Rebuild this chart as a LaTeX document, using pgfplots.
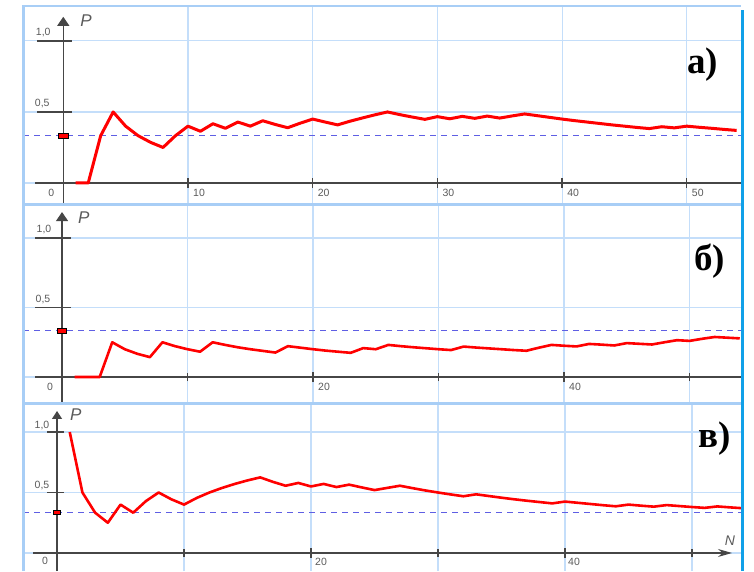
\documentclass[border=0pt]{standalone}
\usepackage{pgfplots}
\pgfplotsset{compat=1.18}
\usepackage{pgfplotstable}
\usetikzlibrary{arrows.meta}
\usepackage{fontspec}
\setmainfont{Liberation Sans}
\newfontfamily\labfont{Liberation Serif}

\definecolor{gridblue}{RGB}{196,222,250}
\definecolor{frameblue}{RGB}{168,206,246}
\definecolor{edgeblue}{RGB}{16,160,232}
\definecolor{axisgray}{RGB}{70,70,70}
\definecolor{lblgray}{RGB}{90,90,90}
\definecolor{dashblue}{RGB}{95,95,228}

% relative frequency P after N trials, three runs
\pgfplotstableread{
N  Pa    Pb    Pc
1  0     0     1
2  0     0     0.5
3  0.333 0     0.333
4  0.5   0.25  0.25
5  0.4   0.2   0.4
6  0.333 0.167 0.333
7  0.286 0.143 0.429
8  0.25  0.25  0.5
9  0.333 0.222 0.444
10 0.4   0.2   0.4
11 0.364 0.182 0.455
12 0.417 0.25  0.5
13 0.385 0.231 0.538
14 0.429 0.214 0.571
15 0.4   0.2   0.6
16 0.438 0.188 0.625
17 0.412 0.176 0.588
18 0.389 0.222 0.556
19 0.421 0.211 0.579
20 0.45  0.2   0.55
21 0.429 0.19  0.571
22 0.409 0.182 0.545
23 0.435 0.174 0.565
24 0.458 0.208 0.542
25 0.48  0.2   0.52
26 0.5   0.231 0.538
27 0.481 0.222 0.556
28 0.464 0.214 0.536
29 0.448 0.207 0.517
30 0.467 0.2   0.5
31 0.452 0.194 0.484
32 0.469 0.219 0.469
33 0.455 0.212 0.485
34 0.471 0.206 0.471
35 0.457 0.2   0.457
36 0.472 0.194 0.444
37 0.486 0.189 0.432
38 0.474 0.211 0.421
39 0.462 0.231 0.41
40 0.45  0.225 0.425
41 0.439 0.22  0.415
42 0.429 0.238 0.405
43 0.419 0.233 0.395
44 0.409 0.227 0.386
45 0.4   0.244 0.4
46 0.391 0.239 0.391
47 0.383 0.234 0.383
48 0.396 0.25  0.396
49 0.388 0.265 0.388
50 0.4   0.26  0.38
51 0.392 0.275 0.373
52 0.385 0.288 0.385
53 0.377 0.283 0.377
54 0.37  0.278 0.37
}\freq

\pgfplotsset{
  panel/.style={
    scale only axis, width=718pt, anchor=south west,
    clip mode=individual,
    axis line style={draw=none}, tick style={draw=none},
    xtick={10,20,30,40,50}, ytick={0,0.5,1},
    xticklabels={}, yticklabels={},
    grid=major, major grid style={draw=gridblue, line width=1.1pt},
  },
}
\tikzset{
  axisline/.style={draw=axisgray, line width=1.2pt},
  lbl/.style={font=\fontsize{10.5}{12}\selectfont, text=lblgray, inner sep=0pt},
  plbl/.style={font=\fontsize{17}{17}\selectfont\itshape, text=lblgray, inner sep=0pt, anchor=west},
  prob/.style={draw=red, line width=2.8pt, line join=round, mark=none},
  ref/.style={draw=dashblue, line width=1.3pt, dash pattern=on 6pt off 5pt},
  panellbl/.style={font=\labfont\bfseries\fontsize{37}{37}\selectfont, anchor=base west, inner sep=0pt},
}
% tick mark across the N axis (half length #2) and its label
\newcommand{\xtk}[2]{\draw[axisline] (axis cs:#1,0) ++(0pt,-#2) -- ++(0pt,#2) -- ++(0pt,#2);}
\newcommand{\xlb}[3]{\node[lbl, anchor=west, xshift=#2, yshift=#3] at (axis cs:#1,0) {#1};}

\begin{document}
\begin{tikzpicture}
\path[use as bounding box] (0pt,0pt) rectangle (754pt,571pt);

% ---- panel a ----
\begin{axis}[panel, at={(23pt,367pt)}, height=197pt,
  xmin=-3.23, xmax=54.35, ymin=-0.148, ymax=1.239]
  \draw[axisline] (axis cs:0,0) ++(-28pt,0pt) -- (axis cs:54.35,0);
  \draw[axisline, -{Triangle[length=9pt,width=12pt]}] (axis cs:0,-0.148) -- (axis cs:0,1.17);
  \draw[axisline] (axis cs:0,1) ++(-26pt,0pt) -- ++(35pt,0pt);
  \draw[axisline] (axis cs:0,0.5) ++(-26pt,0pt) -- ++(35pt,0pt);
  \node[lbl, xshift=-20pt, yshift=8pt] at (axis cs:0,1) {1,0};
  \node[lbl, xshift=-21pt, yshift=8pt] at (axis cs:0,0.5) {0,5};
  \node[lbl, xshift=-12pt, yshift=-10pt] at (axis cs:0,0) {0};
  \xtk{10}{5pt}\xtk{20}{5pt}\xtk{30}{5pt}\xtk{40}{5pt}\xtk{50}{5pt}
  \xlb{10}{5pt}{-10pt}\xlb{20}{5pt}{-10pt}\xlb{30}{5pt}{-10pt}\xlb{40}{5pt}{-10pt}\xlb{50}{5pt}{-10pt}
  \node[plbl, xshift=17pt, yshift=-4pt] at (axis cs:0,1.17) {P};
  \addplot[ref] coordinates {(-3.23,0.3333) (54.35,0.3333)};
  \addplot[prob, line width=3pt] table[x=N, y=Pa] {\freq};
  \addplot[only marks, mark=square*, mark size=3.2pt,
    mark options={fill=red, draw=black, line width=0.7pt, xscale=1.5, yscale=0.8}]
    coordinates {(0,0.3333)};
\end{axis}

% ---- panel b ----
\begin{axis}[panel, at={(23pt,168pt)}, height=199pt,
  xmin=-3.11, xmax=54.1, ymin=-0.187, ymax=1.245]
  \draw[axisline] (axis cs:0,0) ++(-27pt,0pt) -- (axis cs:54.1,0);
  \draw[axisline, -{Triangle[length=9pt,width=12pt]}] (axis cs:0,-0.187) -- (axis cs:0,1.187);
  \draw[axisline] (axis cs:0,1) ++(-27pt,0pt) -- ++(36pt,0pt);
  \draw[axisline] (axis cs:0,0.5) ++(-27pt,0pt) -- ++(36pt,0pt);
  \node[lbl, xshift=-18pt, yshift=9pt] at (axis cs:0,1) {1,0};
  \node[lbl, xshift=-19pt, yshift=8pt] at (axis cs:0,0.5) {0,5};
  \node[lbl, xshift=-12pt, yshift=-10pt] at (axis cs:0,0) {0};
  \xtk{10}{4pt}\xtk{20}{5pt}\xtk{30}{4pt}\xtk{40}{5pt}\xtk{50}{4pt}
  \xlb{20}{5pt}{-10pt}\xlb{40}{5pt}{-10pt}
  \node[plbl, xshift=16pt, yshift=-6pt] at (axis cs:0,1.187) {P};
  \addplot[ref] coordinates {(-3.11,0.3333) (54.1,0.3333)};
  \addplot[prob, line width=2.6pt] table[x=N, y=Pb] {\freq};
  \addplot[only marks, mark=square*, mark size=3.2pt,
    mark options={fill=red, draw=black, line width=0.7pt, xscale=1.5, yscale=0.8}]
    coordinates {(0,0.3333)};
\end{axis}

% ---- panel c ----
\begin{axis}[panel, at={(23pt,0pt)}, height=168pt,
  xmin=-2.68, xmax=53.86, ymin=-0.149, ymax=1.24]
  \draw[axisline, -{Stealth[length=14pt,width=8pt]}] (axis cs:0,0) ++(-24pt,0pt) -- (axis cs:53.15,0);
  \draw[axisline, -{Triangle[length=8pt,width=10pt]}] (axis cs:0,-0.149) -- (axis cs:0,1.174);
  \draw[axisline] (axis cs:0,1) ++(-10pt,0pt) -- ++(17pt,0pt);
  \draw[axisline] (axis cs:0,0.5) ++(-10pt,0pt) -- ++(17pt,0pt);
  \node[lbl, xshift=-15pt, yshift=7pt] at (axis cs:0,1) {1,0};
  \node[lbl, xshift=-15pt, yshift=7pt] at (axis cs:0,0.5) {0,5};
  \node[lbl, xshift=-12pt, yshift=-8pt] at (axis cs:0,0) {0};
  \xtk{10}{4pt}\xtk{20}{5pt}\xtk{30}{4pt}\xtk{40}{5pt}\xtk{50}{4pt}
  \xlb{20}{4pt}{-9pt}\xlb{40}{3pt}{-9pt}
  \node[plbl, xshift=13pt, yshift=-4pt] at (axis cs:0,1.174) {P};
  \node[font=\fontsize{14}{14}\selectfont\itshape, text=lblgray, inner sep=0pt,
    xshift=-2pt, yshift=12pt] at (axis cs:53.15,0) {N};
  \addplot[ref] coordinates {(-2.68,0.3333) (53.86,0.3333)};
  \addplot[prob, line width=2.6pt] table[x=N, y=Pc] {\freq};
  \addplot[only marks, mark=square*, mark size=2.4pt,
    mark options={fill=red, draw=black, line width=0.7pt, xscale=1.5, yscale=0.8}]
    coordinates {(0,0.3333)};
\end{axis}

% frames around the three panels
\draw[frameblue, line width=3.5pt] (23.5pt,0pt) -- (23.5pt,566pt);
\draw[frameblue, line width=2.5pt] (21.75pt,565pt) -- (741pt,565pt);
\draw[frameblue, line width=3pt] (23pt,366pt) -- (741pt,366pt);
\draw[frameblue, line width=3pt] (23pt,167.5pt) -- (741pt,167.5pt);
\draw[edgeblue, line width=3pt] (742pt,0pt) -- (742pt,561pt);

% panel letters
\node[panellbl] at (687pt,497pt) {а)};
\node[panellbl] at (694pt,301pt) {б)};
\node[panellbl] at (698pt,124pt) {в)};
\end{tikzpicture}
\end{document}
